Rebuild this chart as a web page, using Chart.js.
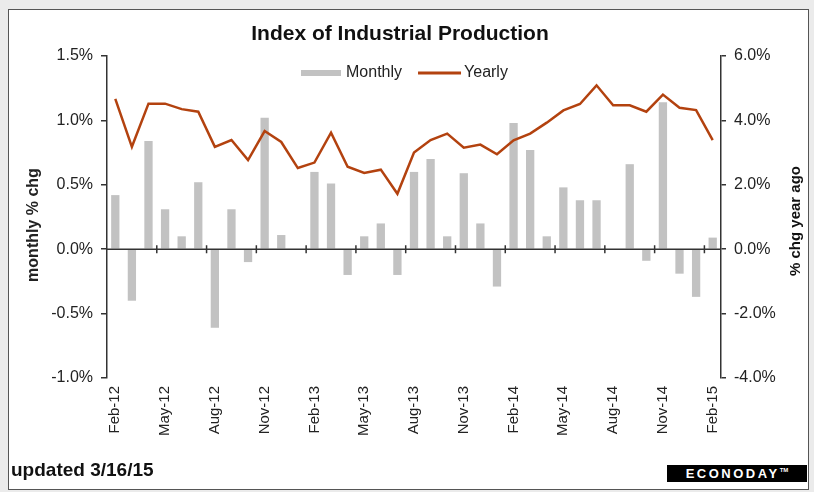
<!DOCTYPE html>
<html>
<head>
<meta charset="utf-8">
<script src="https://cdn.jsdelivr.net/npm/chart.js@4.4.0/dist/chart.umd.min.js"></script>
<style>
    body { margin: 0; background: #ebebeb; overflow: hidden; font-family: "Liberation Sans", Arial, sans-serif; }
    #frame { position: absolute; left: 8px; top: 9px; width: 799px; height: 479px; border: 1.5px solid #555; background: #fff; }
    #wrap { position: absolute; left: 0; top: 0; width: 814px; height: 492px; }
    #updated { position: absolute; left: 11px; top: 459px; font-size: 19px; font-weight: bold; color: #111; }
    #logo { position: absolute; left: 667px; top: 465px; width: 140px; height: 17px; background: #000; color: #fff;
        font-size: 13px; font-weight: bold; letter-spacing: 2.5px; line-height: 17px; text-align: center; overflow: hidden; }
    #logo sup { font-size: 6px; letter-spacing: 0; vertical-align: top; line-height: 10px; }
</style>
</head>
<body>
<div id="frame"></div>
<div id="wrap"><canvas id="chart"></canvas></div>
<div id="updated">updated 3/16/15</div>
<div id="logo">ECONODAY<sup>TM</sup></div>
<script>
const months = ['Feb-12', 'Mar-12', 'Apr-12', 'May-12', 'Jun-12', 'Jul-12', 'Aug-12', 'Sep-12', 'Oct-12', 'Nov-12', 'Dec-12',
    'Jan-13', 'Feb-13', 'Mar-13', 'Apr-13', 'May-13', 'Jun-13', 'Jul-13', 'Aug-13', 'Sep-13', 'Oct-13', 'Nov-13', 'Dec-13',
    'Jan-14', 'Feb-14', 'Mar-14', 'Apr-14', 'May-14', 'Jun-14', 'Jul-14', 'Aug-14', 'Sep-14', 'Oct-14', 'Nov-14', 'Dec-14',
    'Jan-15', 'Feb-15'];
const monthly = [0.42, -0.40, 0.84, 0.31, 0.10, 0.52, -0.61, 0.31, -0.10, 1.02, 0.11,
    0.00, 0.60, 0.51, -0.20, 0.10, 0.20, -0.20, 0.60, 0.70, 0.10, 0.59, 0.20,
    -0.29, 0.98, 0.77, 0.10, 0.48, 0.38, 0.38, 0.00, 0.66, -0.09, 1.14, -0.19,
    -0.37, 0.09];
const yearly = [4.67, 3.18, 4.52, 4.52, 4.35, 4.27, 3.18, 3.39, 2.77, 3.67, 3.33,
    2.52, 2.69, 3.62, 2.56, 2.37, 2.47, 1.72, 3.00, 3.39, 3.59, 3.15, 3.25,
    2.95, 3.38, 3.59, 3.93, 4.31, 4.51, 5.09, 4.47, 4.47, 4.27, 4.80, 4.39,
    4.32, 3.39];
const leftTicks = [-1.0, -0.5, 0.0, 0.5, 1.0, 1.5];
const rightTicks = [-4.0, -2.0, 0.0, 2.0, 4.0, 6.0];

const chartTitle = 'Index of Industrial Production';
const leftTitle = 'monthly % chg';
const rightTitle = '% chg year ago';

const FONT = '"Liberation Sans", Arial, sans-serif';
const TEXT = '#222';
const AXIS = '#333';

// title, legend and the two axis titles (right one reads bottom to top)
const decorations = {
    id: 'decorations',
    afterDraw(chart) {
        const ctx = chart.ctx;
        ctx.save();
        ctx.fillStyle = '#111';
        ctx.font = `bold 21px ${FONT}`;
        ctx.textAlign = 'center';
        ctx.textBaseline = 'middle';
        ctx.fillText(chartTitle, 400, 34);

        // legend
        ctx.font = `16px ${FONT}`;
        ctx.textAlign = 'left';
        let x = 301;
        const y = 73;
        chart.data.datasets.forEach(ds => {
            if (ds.type == 'line') {
                ctx.strokeStyle = ds.borderColor;
                ctx.lineWidth = 3;
                ctx.beginPath();
                ctx.moveTo(x, y);
                ctx.lineTo(x + 43, y);
                ctx.stroke();
                x += 46;
            } else {
                ctx.fillStyle = ds.backgroundColor;
                ctx.fillRect(x, y - 3, 40, 6);
                x += 45;
            }
            ctx.fillStyle = TEXT;
            ctx.fillText(ds.label, x, y);
            x += ctx.measureText(ds.label).width + 16;
        });

        ctx.font = `bold 16px ${FONT}`;
        ctx.textAlign = 'center';
        ctx.translate(34, 225);
        ctx.rotate(-Math.PI / 2);
        ctx.fillText(leftTitle, 0, 0);
        ctx.restore();

        ctx.save();
        ctx.fillStyle = '#111';
        ctx.font = `bold 15px ${FONT}`;
        ctx.textAlign = 'center';
        ctx.textBaseline = 'middle';
        ctx.translate(796, 221);
        ctx.rotate(-Math.PI / 2);
        ctx.fillText(rightTitle, 0, 0);
        ctx.restore();
    }
};

// x axis sits on the zero line, with marks before every labelled month
const zeroAxis = {
    id: 'zeroAxis',
    afterDatasetsDraw(chart) {
        const {ctx, chartArea, scales: {x, y}} = chart;
        const y0 = y.getPixelForValue(0);
        ctx.save();
        ctx.strokeStyle = AXIS;
        ctx.lineWidth = 1.5;
        ctx.beginPath();
        ctx.moveTo(chartArea.left, y0);
        ctx.lineTo(chartArea.right, y0);
        for (let i = 3; i < months.length; i += 3) {
            let px = (x.getPixelForValue(i) + x.getPixelForValue(i - 1)) / 2;
            ctx.moveTo(px, y0 - 4);
            ctx.lineTo(px, y0 + 4);
        }
        ctx.stroke();
        ctx.restore();
    }
};

function pct(v) {
    return v.toFixed(1) + '%';
}

new Chart('chart', {
    type: 'bar',
    data: {
        labels: months,
        datasets: [{
            type: 'bar',
            label: 'Monthly',
            data: monthly,
            yAxisID: 'y',
            backgroundColor: '#c2c2c2',
            barPercentage: 0.5,
            categoryPercentage: 1,
            order: 2
        }, {
            type: 'line',
            label: 'Yearly',
            data: yearly,
            yAxisID: 'y1',
            borderColor: '#b3420f',
            backgroundColor: '#b3420f',
            borderWidth: 2.5,
            pointRadius: 0,
            tension: 0,
            order: 1
        }]
    },
    options: {
        responsive: true,
        maintainAspectRatio: false,
        animation: false,
        layout: { padding: { left: 0, right: 0, top: 56, bottom: 44 } },
        plugins: {
            legend: { display: false },
            title: { display: false },
            tooltip: { enabled: false }
        },
        scales: {
            x: {
                grid: { display: false, drawTicks: false },
                border: { display: false },
                afterFit: s => { s.height = 70; },
                ticks: {
                    autoSkip: false,
                    minRotation: 90,
                    maxRotation: 90,
                    padding: 8,
                    color: TEXT,
                    font: { family: FONT, size: 15 },
                    callback: (v, i) => i % 3 == 0 ? months[i] : ''
                }
            },
            y: {
                position: 'left',
                min: leftTicks[0],
                max: leftTicks[leftTicks.length - 1],
                afterFit: s => { s.width = 107; },
                afterBuildTicks: s => { s.ticks = leftTicks.map(v => ({value: v})); },
                grid: { drawOnChartArea: false, tickLength: 6, color: AXIS, lineWidth: 1.5 },
                border: { display: true, color: AXIS, width: 1.5 },
                ticks: { padding: 8, color: TEXT, font: { family: FONT, size: 16 }, callback: v => pct(v) }
            },
            y1: {
                position: 'right',
                min: rightTicks[0],
                max: rightTicks[rightTicks.length - 1],
                afterFit: s => { s.width = 93; },
                afterBuildTicks: s => { s.ticks = rightTicks.map(v => ({value: v})); },
                grid: { drawOnChartArea: false, tickLength: 5, color: AXIS, lineWidth: 1.5 },
                border: { display: true, color: AXIS, width: 1.5 },
                ticks: { padding: 8, color: TEXT, font: { family: FONT, size: 16 }, callback: v => pct(v) }
            }
        }
    },
    plugins: [zeroAxis, decorations]
});
</script>
</body>
</html>
